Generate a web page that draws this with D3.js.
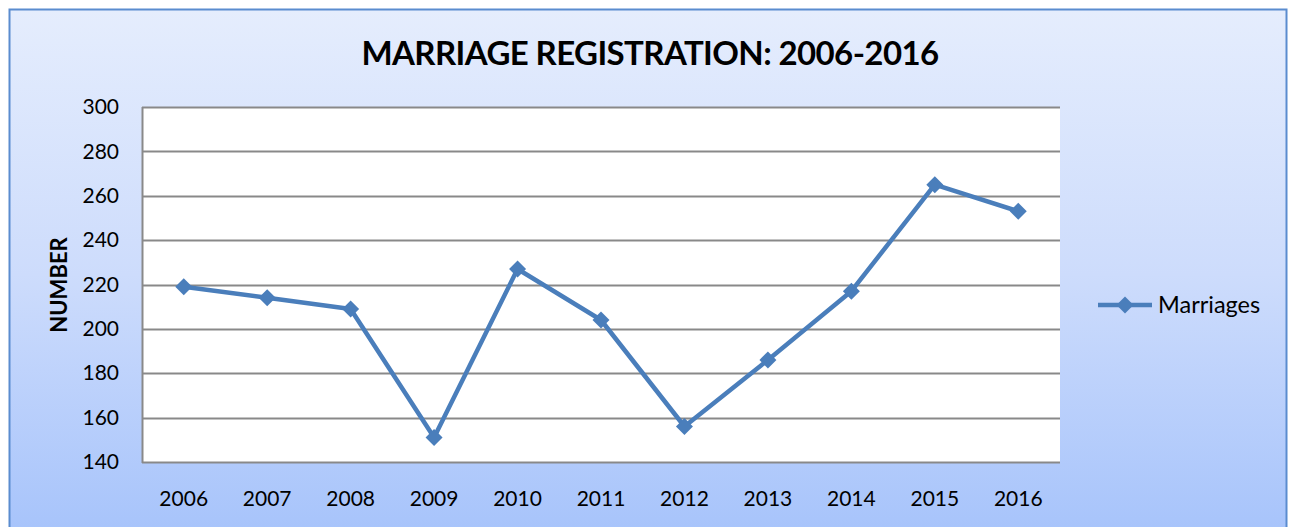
<!DOCTYPE html>
<html lang="en">
<head>
    <meta charset="UTF-8">
    <title>Marriage Registration</title>
    <script src="https://d3js.org/d3.v7.min.js"></script>
    <style>
        body { margin: 0; background: #fff; }
        text { font-family: Lato, "Open Sans", sans-serif; fill: #000; }
    </style>
</head>
<body>
<script type="text/javascript">
    var years = ["2006", "2007", "2008", "2009", "2010", "2011", "2012", "2013", "2014", "2015", "2016"];
    var marriages = [219, 214, 209, 151, 227, 204, 156, 186, 217, 265, 253];
    var yTicks = [140, 160, 180, 200, 220, 240, 260, 280, 300];
    var seriesName = "Marriages";

    var svgWidth = 1291;
    var svgHeight = 527;
    var plot = {left: 142, top: 107, right: 1060, bottom: 462};

    var svg = d3.select("body").append("svg")
        .attr("width", svgWidth)
        .attr("height", svgHeight);

    var defs = svg.append("defs");
    var grad = defs.append("linearGradient")
        .attr("id", "bg")
        .attr("x1", 0).attr("y1", 0).attr("x2", 0).attr("y2", 1);
    grad.append("stop").attr("offset", "0%").attr("stop-color", "#e5edfd");
    grad.append("stop").attr("offset", "50%").attr("stop-color", "#cddcfc");
    grad.append("stop").attr("offset", "100%").attr("stop-color", "#a6c3fb");

    svg.append("rect")
        .attr("x", 9.5).attr("y", 9.5)
        .attr("width", 1277).attr("height", 530)
        .attr("fill", "url(#bg)")
        .attr("stroke", "#5a8ccf")
        .attr("stroke-width", 2);

    var xScale = d3.scaleBand()
        .domain(years)
        .range([plot.left, plot.right]);
    var yScale = d3.scaleLinear()
        .domain([140, 300])
        .range([plot.bottom, plot.top]);

    svg.append("rect")
        .attr("x", plot.left).attr("y", plot.top)
        .attr("width", plot.right - plot.left)
        .attr("height", plot.bottom - plot.top)
        .attr("fill", "#fff");

    svg.append("g")
        .selectAll("line")
        .data(yTicks)
        .enter()
        .append("line")
        .attr("x1", plot.left)
        .attr("x2", plot.right)
        .attr("y1", function (d) { return Math.round(yScale(d)) + 0.5; })
        .attr("y2", function (d) { return Math.round(yScale(d)) + 0.5; })
        .attr("stroke", "#898989")
        .attr("stroke-width", 2);

    svg.append("line")
        .attr("x1", plot.left + 0.5).attr("x2", plot.left + 0.5)
        .attr("y1", plot.top).attr("y2", plot.bottom + 1)
        .attr("stroke", "#898989")
        .attr("stroke-width", 2);

    var yAxis = d3.axisLeft(yScale).tickValues(yTicks).tickSize(0).tickPadding(23);
    var gy = svg.append("g")
        .attr("transform", "translate(" + plot.left + ",0)")
        .call(yAxis);
    gy.select(".domain").remove();
    gy.selectAll("text")
        .attr("font-size", 21)
        .attr("font-family", "Lato, 'Open Sans', sans-serif")
        .attr("fill", "#000");

    var xAxis = d3.axisBottom(xScale).tickSize(0).tickPadding(29);
    var gx = svg.append("g")
        .attr("transform", "translate(0," + plot.bottom + ")")
        .call(xAxis);
    gx.select(".domain").remove();
    gx.selectAll("text")
        .attr("font-size", 21)
        .attr("font-family", "Lato, 'Open Sans', sans-serif")
        .attr("fill", "#000");

    var line = d3.line()
        .x(function (d, i) { return xScale(years[i]) + xScale.bandwidth() / 2; })
        .y(function (d) { return yScale(d); });

    svg.append("path")
        .datum(marriages)
        .attr("d", line)
        .attr("fill", "none")
        .attr("stroke", "#4a7ebb")
        .attr("stroke-width", 4.5)
        .attr("stroke-linejoin", "round");

    // square diamond marker, like the spreadsheet one
    var diamond = "M0,-8.5L8.5,0L0,8.5L-8.5,0Z";

    svg.append("g")
        .selectAll("path")
        .data(marriages)
        .enter()
        .append("path")
        .attr("d", diamond)
        .attr("transform", function (d, i) {
            return "translate(" + (xScale(years[i]) + xScale.bandwidth() / 2) + "," + yScale(d) + ")";
        })
        .attr("fill", "#4a7ebb");

    svg.append("text")
        .attr("x", 650)
        .attr("y", 65)
        .attr("text-anchor", "middle")
        .attr("font-size", 33)
        .attr("font-weight", "bold")
        .attr("letter-spacing", "-0.6")
        .text("MARRIAGE REGISTRATION: 2006-2016");

    svg.append("text")
        .attr("transform", "translate(67,285) rotate(-90)")
        .attr("text-anchor", "middle")
        .attr("font-size", 22)
        .attr("font-weight", "bold")
        .text("NUMBER");

    var legend = svg.append("g").attr("transform", "translate(1098,305)");
    legend.append("line")
        .attr("x1", 0).attr("x2", 54)
        .attr("stroke", "#4a7ebb")
        .attr("stroke-width", 4.5);
    legend.append("path")
        .attr("d", diamond)
        .attr("transform", "translate(27,0)")
        .attr("fill", "#4a7ebb");
    legend.append("text")
        .attr("x", 60)
        .attr("y", 8)
        .attr("font-size", 23.5)
        .text(seriesName);
</script>
</body>
</html>
